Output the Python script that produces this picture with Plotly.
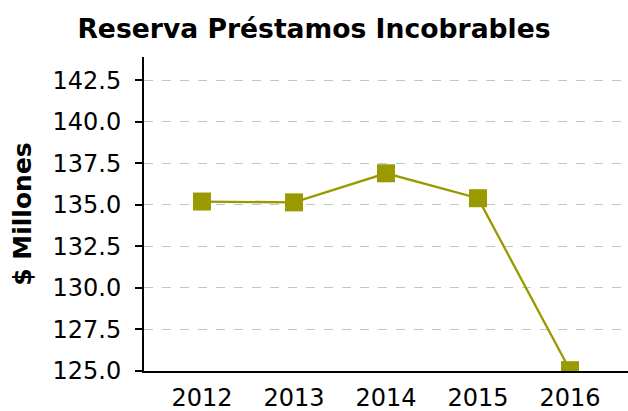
import plotly.graph_objects as go

years = ["2012", "2013", "2014", "2015", "2016"]
reserve = [135.2, 135.15, 136.9, 135.4, 125.05]
y_ticks = [125.0, 127.5, 130.0, 132.5, 135.0, 137.5, 140.0, 142.5]

olive = "#999900"

fig = go.Figure()
fig.add_trace(go.Scatter(
    x=years,
    y=reserve,
    mode="lines+markers",
    line=dict(color=olive, width=2.3),
    marker=dict(symbol="square", size=18, color=olive),
    cliponaxis=True,
    showlegend=False,
))

fig.update_layout(
    width=628,
    height=411,
    margin=dict(l=144, r=0, t=57, b=40),
    paper_bgcolor="white",
    plot_bgcolor="white",
    font=dict(family="DejaVu Sans", size=24, color="black"),
    title=dict(
        text="<b>Reserva Préstamos Incobrables</b>",
        x=0.5, xanchor="center", y=0.929, yanchor="middle",
        font=dict(size=26.6, family="DejaVu Sans"),
    ),
    xaxis=dict(
        type="category",
        range=[-0.63, 4.63],
        showgrid=False,
        showline=True, linecolor="black", linewidth=2,
        ticks="", tickfont=dict(size=24),
        ticklabelstandoff=4,
        zeroline=False,
        automargin=False,
    ),
    yaxis=dict(
        range=[125, 143.9],
        tickvals=y_ticks,
        ticktext=[f"{v:.1f}" for v in y_ticks],
        showgrid=True, gridcolor="#c4c4c4", griddash="dash", gridwidth=1,
        showline=True, linecolor="black", linewidth=2,
        ticks="outside", ticklen=7, tickwidth=2, tickcolor="black",
        ticklabelstandoff=9,
        tickfont=dict(size=24),
        zeroline=False,
        automargin=False,
        title=dict(text="<b>$ Millones</b>", font=dict(size=25), standoff=14),
    ),
)

fig.write_html("out.html", config={"displayModeBar": False},
               post_script="document.body.style.margin='0';")
